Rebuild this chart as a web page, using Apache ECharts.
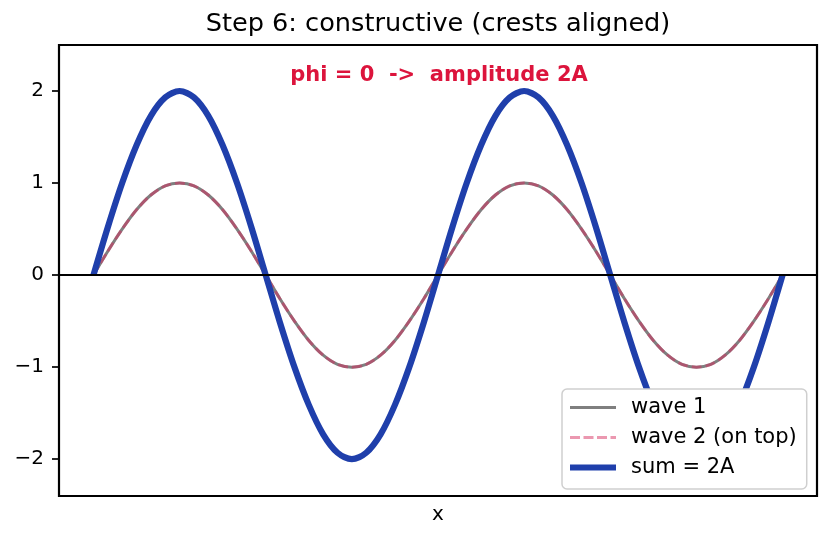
<!DOCTYPE html>
<html>
<head>
<meta charset="utf-8">
<script src="https://cdn.jsdelivr.net/npm/echarts@6/dist/echarts.min.js"></script>
<style>
html,body{margin:0;padding:0;background:#fff;}
#chart{width:832px;height:540px;}
</style>
</head>
<body>
<div id="chart"></div>
<script>
// Sample positions (0 .. 48 steps across the two periods)
const xPositions = [0,1,2,3,4,5,6,7,8,9,10,11,12,13,14,15,16,17,18,19,20,21,22,23,24,
  25,26,27,28,29,30,31,32,33,34,35,36,37,38,39,40,41,42,43,44,45,46,47,48];
const wave1 = [0,0.26,0.5,0.71,0.87,0.97,1,0.97,0.87,0.71,0.5,0.26,0,-0.26,-0.5,-0.71,-0.87,-0.97,-1,-0.97,-0.87,-0.71,-0.5,-0.26,0,
  0.26,0.5,0.71,0.87,0.97,1,0.97,0.87,0.71,0.5,0.26,0,-0.26,-0.5,-0.71,-0.87,-0.97,-1,-0.97,-0.87,-0.71,-0.5,-0.26,0];
const wave2 = [0,0.26,0.5,0.71,0.87,0.97,1,0.97,0.87,0.71,0.5,0.26,0,-0.26,-0.5,-0.71,-0.87,-0.97,-1,-0.97,-0.87,-0.71,-0.5,-0.26,0,
  0.26,0.5,0.71,0.87,0.97,1,0.97,0.87,0.71,0.5,0.26,0,-0.26,-0.5,-0.71,-0.87,-0.97,-1,-0.97,-0.87,-0.71,-0.5,-0.26,0];
const sumWave = [0,0.52,1,1.41,1.73,1.93,2,1.93,1.73,1.41,1,0.52,0,-0.52,-1,-1.41,-1.73,-1.93,-2,-1.93,-1.73,-1.41,-1,-0.52,0,
  0.52,1,1.41,1.73,1.93,2,1.93,1.73,1.41,1,0.52,0,-0.52,-1,-1.41,-1.73,-1.93,-2,-1.93,-1.73,-1.41,-1,-0.52,0];
const yTicks = [-2,-1,0,1,2];
const seriesNames = ['wave 1','wave 2 (on top)','sum = 2A'];
const titleText = 'Step 6: constructive (crests aligned)';
const noteText = 'phi = 0  ->  amplitude 2A';

const pairs = arr => arr.map((v,i) => [xPositions[i], v]);
const FONT = 'DejaVu Sans';

const GRAY = '#7f7f7f';
const PINK = 'rgba(215,45,95,0.5)';
const PINK_LEG = '#eb98b0';
const BLUE = '#1f3fab';

// legend icon paths (bbox fixed 0..46 x 0..14 by the move points)
const iconSolidThin = 'path://M0,0M46,14M0,5.5L46,5.5L46,8.5L0,8.5Z';
const iconDashed = 'path://M0,0M46,14M0,5.5L10,5.5L10,8.5L0,8.5ZM13.5,5.5L23.5,5.5L23.5,8.5L13.5,8.5ZM27,5.5L37,5.5L37,8.5L27,8.5ZM40.5,5.5L46,5.5L46,8.5L40.5,8.5Z';
const iconThick = 'path://M0,0M46,14M0,4L46,4L46,10L0,10Z';

const chart = echarts.init(document.getElementById('chart'), null, {renderer:'canvas'});
chart.setOption({
  animation:false,
  backgroundColor:'#fff',
  textStyle:{fontFamily:FONT},
  grid:{left:59, right:15, top:45, bottom:44, show:true, borderColor:'#000', borderWidth:2.2, backgroundColor:'transparent'},
  xAxis:{
    type:'value', min:-2.4, max:50.4,
    name:'x', nameLocation:'middle', nameGap:9,
    nameTextStyle:{fontFamily:FONT, fontSize:20, color:'#000', lineHeight:20},
    axisLine:{show:false, onZero:false}, axisTick:{show:false}, axisLabel:{show:false}, splitLine:{show:false}
  },
  yAxis:{
    type:'value', min:-2.4, max:2.5,
    axisLine:{show:false, onZero:false},
    axisTick:{show:true, customValues:yTicks, length:7, lineStyle:{color:'#000', width:1.7}},
    axisLabel:{show:true, customValues:yTicks, margin:15, fontFamily:FONT, fontSize:20, color:'#000',
      formatter:v => v < 0 ? '\u2212' + Math.abs(v) : String(v)},
    splitLine:{show:false}
  },
  legend:{
    z:20, zlevel:0,
    orient:'vertical', left:562, top:389,
    padding:[8,10,11,8], itemGap:9, itemWidth:46, itemHeight:14,
    backgroundColor:'#ffffff', borderColor:'#cfcfcf', borderWidth:1.5, borderRadius:5,
    textStyle:{fontFamily:FONT, fontSize:21, color:'#000', lineHeight:21, padding:[0,0,0,10]},
    data:[
      {name:seriesNames[0], icon:iconSolidThin, itemStyle:{color:GRAY, borderWidth:0}},
      {name:seriesNames[1], icon:iconDashed, itemStyle:{color:PINK_LEG, borderWidth:0}},
      {name:seriesNames[2], icon:iconThick, itemStyle:{color:BLUE, borderWidth:0}}
    ]
  },
  graphic:[
    {type:'text', x:438, y:24, z:10,
      style:{text:titleText, fill:'#000', font:'25.6px "DejaVu Sans"', align:'center', verticalAlign:'middle'}},
    {type:'text', x:439, y:76, z:10,
      style:{text:noteText, fill:'#dc143c', font:'bold 21px "DejaVu Sans"', align:'center', verticalAlign:'middle'}}
  ],
  series:[
    {
      name:seriesNames[0], type:'line', data:pairs(wave1), smooth:0.3, symbol:'none', showSymbol:false,
      lineStyle:{color:GRAY, width:3}, itemStyle:{color:GRAY}, z:2,
      markLine:{silent:true, symbol:'none', label:{show:false}, animation:false,
        lineStyle:{color:'#000', width:2, type:'solid'}, data:[{yAxis:0}]}
    },
    {
      name:seriesNames[1], type:'line', data:pairs(wave2), smooth:0.3, symbol:'none', showSymbol:false,
      lineStyle:{color:PINK, width:3, type:[10,4]}, itemStyle:{color:PINK_LEG}, z:3
    },
    {
      name:seriesNames[2], type:'line', data:pairs(sumWave), smooth:0.3, symbol:'none', showSymbol:false,
      lineStyle:{color:BLUE, width:6.2}, itemStyle:{color:BLUE}, z:4
    }
  ]
});
</script>
</body>
</html>
